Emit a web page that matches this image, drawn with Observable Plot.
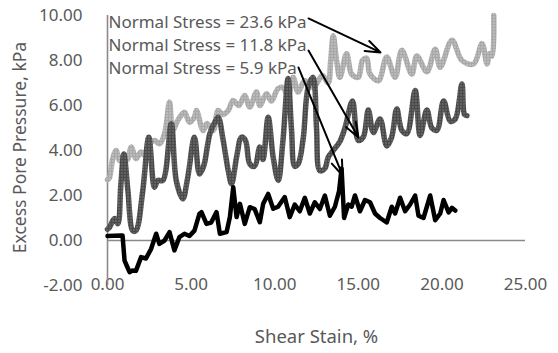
<!DOCTYPE html>
<html>
<head>
<meta charset="utf-8">
<script src="https://cdn.jsdelivr.net/npm/d3@7"></script>
<script src="https://cdn.jsdelivr.net/npm/@observablehq/plot@0.6"></script>
<style>
  body { margin: 0; background: #fff; }
  #chart svg { display: block; }
</style>
</head>
<body>
<div id="chart"></div>
<script>
// ---- Data ----
const seriesNames = ["Normal Stress = 23.6 kPa", "Normal Stress = 11.8 kPa", "Normal Stress = 5.9 kPa"];

const strain236 = [0.0,0.12,0.3,0.52,0.72,1.0,1.2,1.42,1.7,2.0,2.2,2.41,2.81,3.11,3.41,3.71,3.9,4.2,4.6,4.9,5.2,5.32,5.72,5.95,6.32,6.62,6.9,7.22,7.52,7.85,8.21,8.51,8.91,9.11,9.51,9.8,10.2,10.5,10.8,11.1,11.4,11.8,12.3,12.85,13.2,13.35,13.5,13.7,13.9,14.3,14.6,15.0,15.25,15.5,15.7,16.2,16.7,17.2,17.6,18.2,18.5,19.1,19.6,19.9,20.6,21.2,21.9,22.4,22.7,22.85,23.0,23.1];
const pressure236 = [2.7,2.8,3.6,4.0,3.55,3.8,3.6,4.15,3.64,3.93,3.8,4.2,4.44,4.3,4.74,6.15,4.9,5.33,5.7,5.26,5.48,5.78,4.89,5.2,4.89,5.78,5.6,5.78,6.22,6.0,6.44,5.93,6.6,6.0,6.52,6.2,6.75,6.8,6.4,7.25,6.6,7.1,6.8,7.33,7.0,8.0,9.1,8.0,7.25,8.3,7.4,7.25,8.0,8.1,7.4,7.1,8.15,7.25,8.45,7.4,8.2,7.5,8.5,7.7,8.9,8.0,7.85,8.75,7.85,8.3,8.2,10.0];

const strain118 = [0.0,0.12,0.42,0.62,0.8,0.98,1.22,1.51,1.7,2.11,2.47,2.81,3.01,3.31,3.81,4.11,4.5,4.8,5.2,5.5,5.75,6.12,6.42,6.62,6.92,7.22,7.42,7.72,8.01,8.25,8.51,8.8,9.11,9.3,9.61,9.91,10.21,10.5,10.8,11.0,11.2,11.4,11.7,12.0,12.3,12.5,12.7,13.0,13.2,13.5,13.9,14.2,14.65,15.0,15.3,15.6,15.9,16.3,16.7,17.0,17.3,17.6,17.9,18.4,18.7,19.1,19.4,19.7,20.1,20.5,20.8,21.2,21.35,21.5];
const pressure118 = [0.5,0.59,0.98,0.75,2.5,3.85,2.22,0.44,0.44,2.22,4.59,2.37,2.67,2.67,5.19,2.67,1.85,2.81,4.59,2.96,3.3,4.74,5.26,5.48,4.44,3.11,2.52,3.7,4.59,4.45,3.41,3.3,4.15,3.6,5.48,3.7,2.67,4.5,7.2,5.0,3.3,3.4,4.5,6.8,7.25,5.0,3.1,3.2,3.7,4.0,4.4,5.0,6.2,4.45,4.6,5.8,4.8,5.4,4.2,4.6,5.85,4.9,4.75,6.67,4.67,5.8,5.0,4.9,6.2,5.3,5.4,6.96,5.6,5.55];

const strain59 = [0.0,0.82,0.9,1.02,1.2,1.32,1.5,1.7,2.01,2.3,2.61,2.91,3.1,3.41,3.71,4.0,4.3,4.6,4.9,5.2,5.5,5.62,5.92,6.2,6.52,6.72,7.12,7.32,7.52,7.72,7.92,8.21,8.51,8.8,9.11,9.31,9.61,9.91,10.2,10.6,10.9,11.2,11.5,11.8,12.1,12.4,12.7,13.0,13.3,13.6,13.85,14.0,14.15,14.4,14.6,14.8,15.1,15.4,15.7,16.0,16.3,16.7,17.0,17.2,17.5,17.8,18.1,18.4,18.6,18.9,19.3,19.6,19.9,20.1,20.4,20.6,20.8];
const pressure59 = [0.2,0.22,0.22,-0.89,-1.2,-1.41,-1.33,-1.35,-0.74,-0.8,-0.37,0.3,-0.15,0.0,0.37,-0.44,0.15,0.3,0.2,0.44,1.19,1.26,0.74,0.8,1.26,0.3,0.37,1.04,2.37,1.04,1.63,0.74,1.48,1.4,0.81,1.63,2.07,1.41,1.5,1.93,1.04,1.6,1.3,1.9,1.2,1.7,1.4,2.0,1.1,1.5,2.2,3.2,1.0,1.6,1.5,2.0,1.3,1.8,1.7,1.2,1.0,0.8,1.5,1.2,1.9,1.3,1.6,2.0,1.1,1.0,2.0,0.9,1.2,1.8,1.25,1.45,1.33];

const xTicks = [0, 5, 10, 15, 20, 25];
const yTicks = [-2, 0, 2, 4, 6, 8, 10];

// annotation labels (data units) and their arrows
const labelY = [9.67, 8.67, 7.64];
const arrowX1 = [12.02, 12.02, 11.42];
const arrowY1 = [9.87, 8.44, 7.69];
const arrowX2 = [16.33, 15.01, 14.06];
const arrowY2 = [8.36, 4.58, 2.89];

const xLabel = "Shear Stain, %";
const yLabel = "Excess Pore Pressure, kPa";

// ---- Build tables ----
const toRows = (xs, ys) => xs.map((x, i) => ({x, y: ys[i]}));
const s236 = toRows(strain236, pressure236);
const s118 = toRows(strain118, pressure118);
const s59 = toRows(strain59, pressure59);
const labels = seriesNames.map((t, i) => ({text: t, y: labelY[i]}));
const arrows = arrowX1.map((x1, i) => ({x1, y1: arrowY1[i], x2: arrowX2[i], y2: arrowY2[i]}));

const grey = "#595959";
const axisGrey = "#8a8a8a";

const chart = Plot.plot({
  width: 558,
  height: 353,
  marginLeft: 107,
  marginRight: 33,
  marginTop: 15,
  marginBottom: 68,
  x: {domain: [0, 25]},
  y: {domain: [-2, 10]},
  style: {fontFamily: "'Noto Sans', sans-serif", fontSize: "17px", color: grey, background: "#fff"},
  marks: [
    Plot.axisY(yTicks, {tickSize: 0, tickPadding: 25, tickFormat: d => d.toFixed(2), label: null, fontSize: 17}),
    Plot.axisX(xTicks, {tickSize: 0, tickPadding: -8, tickFormat: d => d.toFixed(2), label: null, fontSize: 17}),
    Plot.ruleY([0], {x1: 0, x2: 25, stroke: axisGrey, strokeWidth: 1.6}),
    Plot.ruleX([0], {y1: -2, y2: 10, stroke: axisGrey, strokeWidth: 1.6}),
    Plot.line(s236, {x: "x", y: "y", curve: "catmull-rom", stroke: "url(#patLight)", strokeWidth: 5.5, strokeLinejoin: "round", strokeLinecap: "round"}),
    Plot.line(s118, {x: "x", y: "y", curve: "catmull-rom", stroke: "url(#patDark)", strokeWidth: 5.5, strokeLinejoin: "round", strokeLinecap: "round"}),
    Plot.line(s59, {x: "x", y: "y", stroke: "#000", strokeWidth: 4.5, strokeLinejoin: "round", strokeLinecap: "round"}),
    Plot.text(labels, {x: 0, y: "y", text: "text", textAnchor: "start", dx: 1, fontSize: 17, fill: grey}),
    Plot.arrow(arrows, {x1: "x1", y1: "y1", x2: "x2", y2: "y2", stroke: "#000", strokeWidth: 2, headLength: 12, headAngle: 40}),
    Plot.text([yLabel], {frameAnchor: "left", textAnchor: "middle", rotate: -90, dx: -87, dy: -3, fontSize: 17.5, fill: grey}),
    Plot.text([xLabel], {frameAnchor: "bottom", textAnchor: "middle", dy: 57, fontSize: 18.5, fill: grey})
  ]
});

// textured strokes like the original
const defs = document.createElementNS("http://www.w3.org/2000/svg", "defs");
defs.innerHTML = `
  <pattern id="patLight" patternUnits="userSpaceOnUse" width="3" height="3">
    <rect width="3" height="3" fill="#a8a8a8"/>
    <rect x="1" y="1" width="1" height="1" fill="#eeeeee"/>
  </pattern>
  <pattern id="patDark" patternUnits="userSpaceOnUse" width="3" height="3">
    <rect width="3" height="3" fill="#4a4a4a"/>
    <rect x="1" y="1" width="1" height="1" fill="#aaaaaa"/>
  </pattern>`;
chart.insertBefore(defs, chart.firstChild);

document.getElementById("chart").appendChild(chart);
</script>
</body>
</html>
